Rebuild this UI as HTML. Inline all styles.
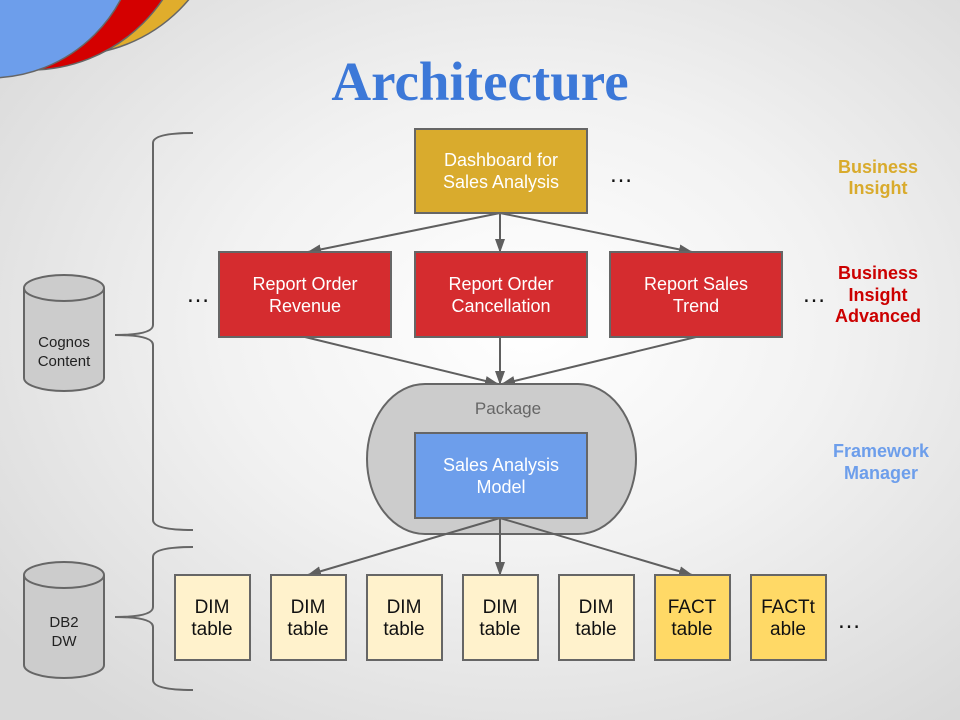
<!DOCTYPE html>
<html><head><meta charset="utf-8"><style>
html,body{margin:0;padding:0}
body{width:960px;height:720px;overflow:hidden;background:radial-gradient(ellipse 70% 70% at 55% 45%,#ffffff 0%,#f2f2f2 45%,#d9d9d9 100%);}
svg{display:block}
</style></head><body>
<svg width="960" height="720" xmlns="http://www.w3.org/2000/svg" font-family="Liberation Sans, Arial, sans-serif">
<defs>
<marker id="a" markerWidth="14" markerHeight="10" refX="13" refY="5" orient="auto" markerUnits="userSpaceOnUse">
<path d="M0,0 L14,5 L0,10 Z" fill="#5f5f5f"/></marker>
</defs>
<circle cx="70" cy="-100" r="155" fill="#e0ad2c" stroke="#666" stroke-width="1.5"/>
<circle cx="30" cy="-90" r="160" fill="#d40000" stroke="#666" stroke-width="1.5"/>
<circle cx="-10" cy="-70" r="148" fill="#6d9eeb" stroke="#666" stroke-width="1.5"/>
<text x="480" y="100" text-anchor="middle" font-family="Liberation Serif, serif" font-weight="bold" font-size="55" fill="#3c78d8">Architecture</text>

<g fill="none" stroke="#666" stroke-width="2">
<path d="M193,133 Q153,133 153,143 L153,325 Q153,335 115,335 Q153,335 153,345 L153,520 Q153,530 193,530"/>
<path d="M193,547 Q153,547 153,557 L153,607 Q153,617 115,617 Q153,617 153,627 L153,680 Q153,690 193,690"/>
</g>
<g stroke="#666" stroke-width="2" fill="#cccccc">
<path d="M24,288 L24,378 A40,13 0 0 0 104,378 L104,288"/>
<ellipse cx="64" cy="288" rx="40" ry="13"/>
<path d="M24,575 L24,665 A40,13 0 0 0 104,665 L104,575"/>
<ellipse cx="64" cy="575" rx="40" ry="13"/>
</g>
<g font-size="15" fill="#222" text-anchor="middle">
<text x="64" y="347">Cognos</text><text x="64" y="366">Content</text>
<text x="64" y="627">DB2</text><text x="64" y="646">DW</text>
</g>

<g stroke="#5f5f5f" stroke-width="2" fill="none" marker-end="url(#a)">
<line x1="500" y1="213" x2="308" y2="252"/>
<line x1="500" y1="213" x2="500" y2="252"/>
<line x1="500" y1="213" x2="692" y2="252"/>
<line x1="305" y1="337" x2="498" y2="384"/>
<line x1="500" y1="337" x2="500" y2="384"/>
<line x1="696" y1="337" x2="502" y2="384"/>
</g>
<rect x="367" y="384" width="269" height="150" rx="58" ry="75" fill="#cccccc" stroke="#666" stroke-width="2"/>
<text x="508" y="414" text-anchor="middle" font-size="17" fill="#666">Package</text>
<g stroke="#5f5f5f" stroke-width="2" fill="none" marker-end="url(#a)">
<line x1="500" y1="518" x2="308" y2="575"/>
<line x1="500" y1="518" x2="500" y2="575"/>
<line x1="500" y1="518" x2="692" y2="575"/>
</g>

<g stroke="#666" stroke-width="2">
<rect x="415" y="129" width="172" height="84" fill="#d9ab2d"/>
<rect x="219" y="252" width="172" height="85" fill="#d52c2f"/>
<rect x="415" y="252" width="172" height="85" fill="#d52c2f"/>
<rect x="610" y="252" width="172" height="85" fill="#d52c2f"/>
<rect x="415" y="433" width="172" height="85" fill="#6d9eeb"/>
<rect x="175" y="575" width="75" height="85" fill="#fff2cc"/>
<rect x="271" y="575" width="75" height="85" fill="#fff2cc"/>
<rect x="367" y="575" width="75" height="85" fill="#fff2cc"/>
<rect x="463" y="575" width="75" height="85" fill="#fff2cc"/>
<rect x="559" y="575" width="75" height="85" fill="#fff2cc"/>
<rect x="655" y="575" width="75" height="85" fill="#ffd966"/>
<rect x="751" y="575" width="75" height="85" fill="#ffd966"/>
</g>
<g font-size="18" fill="#fff" text-anchor="middle">
<text x="501" y="166">Dashboard for</text><text x="501" y="188">Sales Analysis</text>
<text x="305" y="290">Report Order</text><text x="305" y="312">Revenue</text>
<text x="501" y="290">Report Order</text><text x="501" y="312">Cancellation</text>
<text x="696" y="290">Report Sales</text><text x="696" y="312">Trend</text>
<text x="501" y="471">Sales Analysis</text><text x="501" y="493">Model</text>
</g>
<g font-size="19" fill="#111" text-anchor="middle">
<text x="212" y="613">DIM</text><text x="212" y="635">table</text>
<text x="308" y="613">DIM</text><text x="308" y="635">table</text>
<text x="404" y="613">DIM</text><text x="404" y="635">table</text>
<text x="500" y="613">DIM</text><text x="500" y="635">table</text>
<text x="596" y="613">DIM</text><text x="596" y="635">table</text>
<text x="692" y="613">FACT</text><text x="692" y="635">table</text>
<text x="788" y="613">FACTt</text><text x="788" y="635">able</text>
</g>
<g font-size="24" fill="#111" text-anchor="middle">
<text x="621" y="182">…</text>
<text x="198" y="302">…</text>
<text x="814" y="302">…</text>
<text x="849" y="628">…</text>
</g>
<g font-size="18" font-weight="bold" text-anchor="middle">
<text x="878" y="173" fill="#d9ab2d">Business</text><text x="878" y="194" fill="#d9ab2d">Insight</text>
<text x="878" y="279" fill="#cc0000">Business</text><text x="878" y="301" fill="#cc0000">Insight</text><text x="878" y="322" fill="#cc0000">Advanced</text>
<text x="881" y="457" fill="#6d9eeb">Framework</text><text x="881" y="479" fill="#6d9eeb">Manager</text>
</g>
</svg>
</body></html>
